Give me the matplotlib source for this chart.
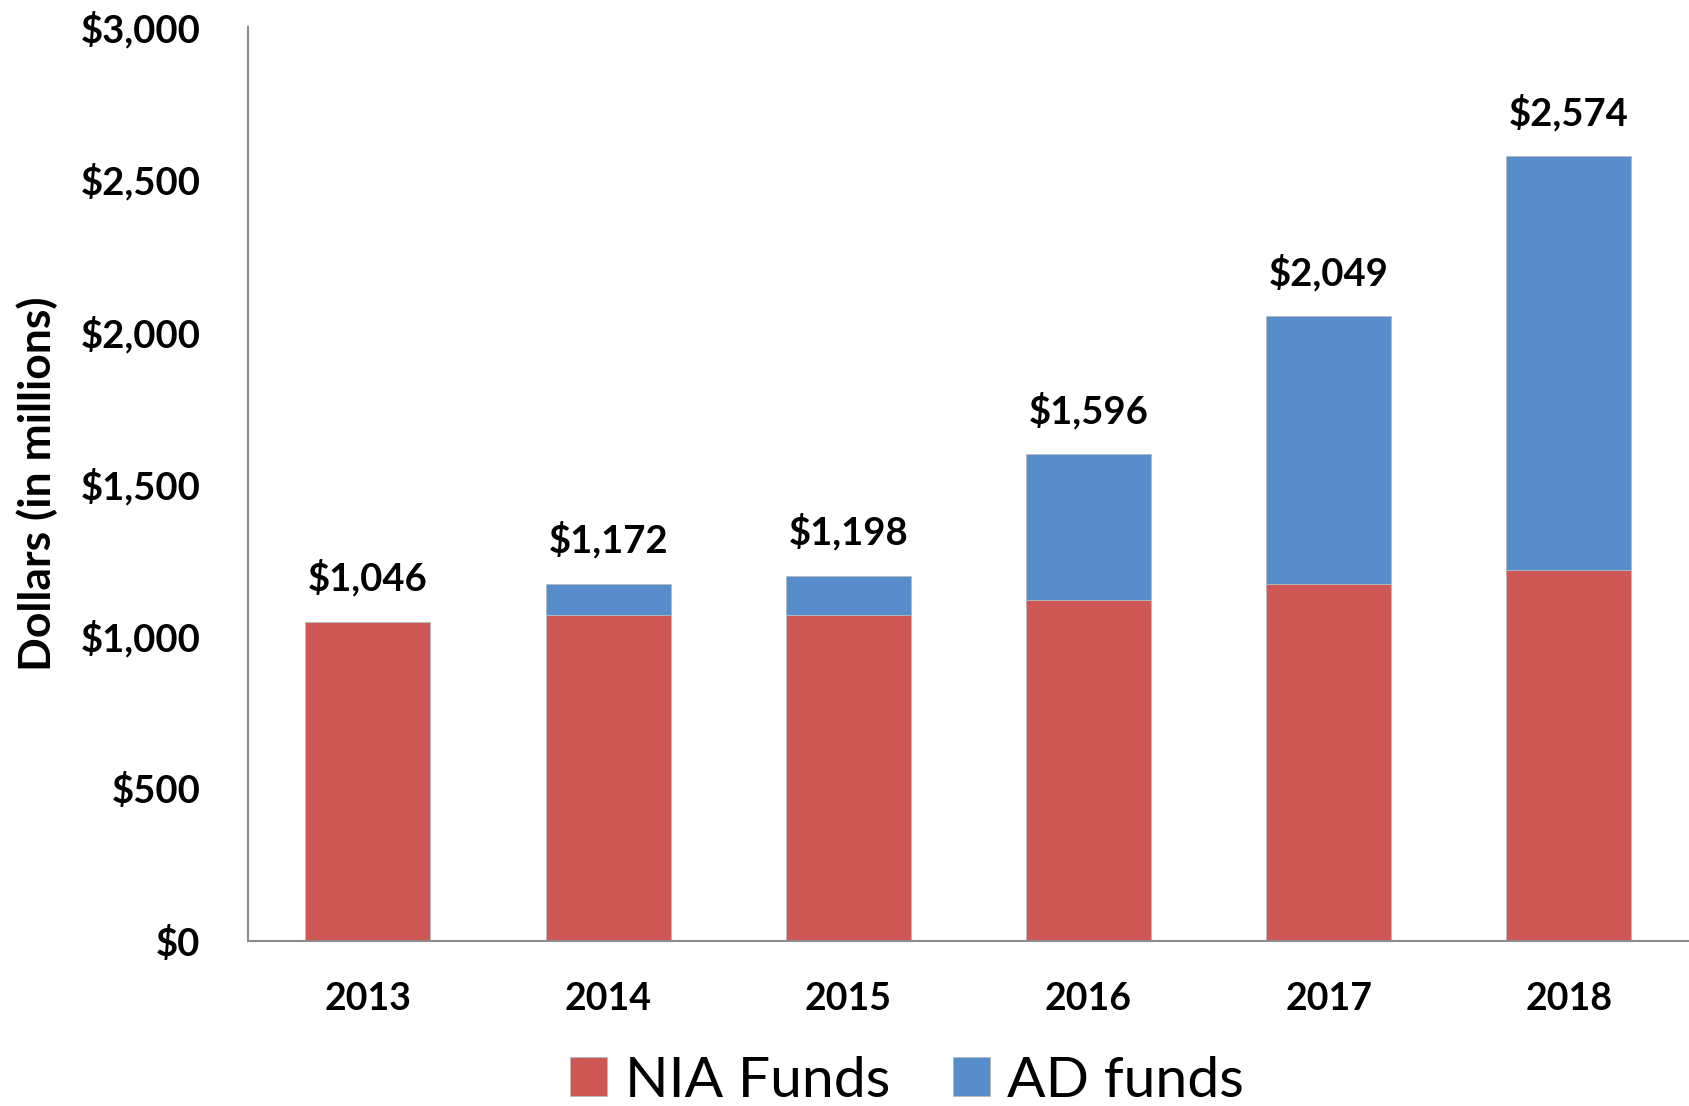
import matplotlib
matplotlib.use("Agg")
import matplotlib.pyplot as plt
import numpy as np

years = ["2013", "2014", "2015", "2016", "2017", "2018"]
totals = [1046, 1172, 1198, 1596, 2049, 2574]
nia_funds = [1046, 1068, 1068, 1119, 1172, 1216]
ad_funds = [t - n for t, n in zip(totals, nia_funds)]
yticks = [0, 500, 1000, 1500, 2000, 2500, 3000]
ytick_labels = ["$0", "$500", "$1,000", "$1,500", "$2,000", "$2,500", "$3,000"]

plt.rcParams['font.family'] = ['Lato', 'DejaVu Sans']

fig = plt.figure(figsize=(16.89, 11.06), dpi=100)
ax = fig.add_axes([0.1467, 0.1495, 0.8533, 0.8264])

x = np.arange(len(years))
red = "#CD5856"
blue = "#588DCB"
w = 0.52
ax.bar(x, nia_funds, w, color=red, label="NIA Funds", edgecolor="#B9B9B9", linewidth=0.6)
ax.bar(x, ad_funds, w, bottom=nia_funds, color=blue, label="AD funds", edgecolor="#B9B9B9", linewidth=0.6)

for xi, t in zip(x, totals):
    ax.annotate(f"${t:,}", (xi, t), xytext=(0, 18), textcoords="offset points",
                ha="center", va="bottom", fontsize=27.5, fontweight="bold")

ax.set_xlim(-0.5, len(years) - 0.5)
ax.set_ylim(0, 3000)
ax.set_yticks(yticks)
ax.set_yticklabels(ytick_labels, fontsize=27.5, fontweight="bold")
ax.set_xticks(x)
ax.set_xticklabels(years, fontsize=27, fontweight="bold")
ax.tick_params(axis="y", length=0, pad=34)
ax.tick_params(axis="x", length=0, pad=30)
for s in ["top", "right"]:
    ax.spines[s].set_visible(False)
for s in ["left", "bottom"]:
    ax.spines[s].set_color("#8C8C8C")
    ax.spines[s].set_linewidth(1.5)
ax.set_ylabel("Dollars (in millions)", fontsize=32, fontweight="bold", labelpad=16)

leg = fig.legend(loc="center", bbox_to_anchor=(0.537, 0.0225), ncol=2, frameon=False,
                 fontsize=41, handlelength=0.66, handleheight=0.66, handletextpad=0.3,
                 columnspacing=1.1)

fig.savefig("out.png", dpi=100)
